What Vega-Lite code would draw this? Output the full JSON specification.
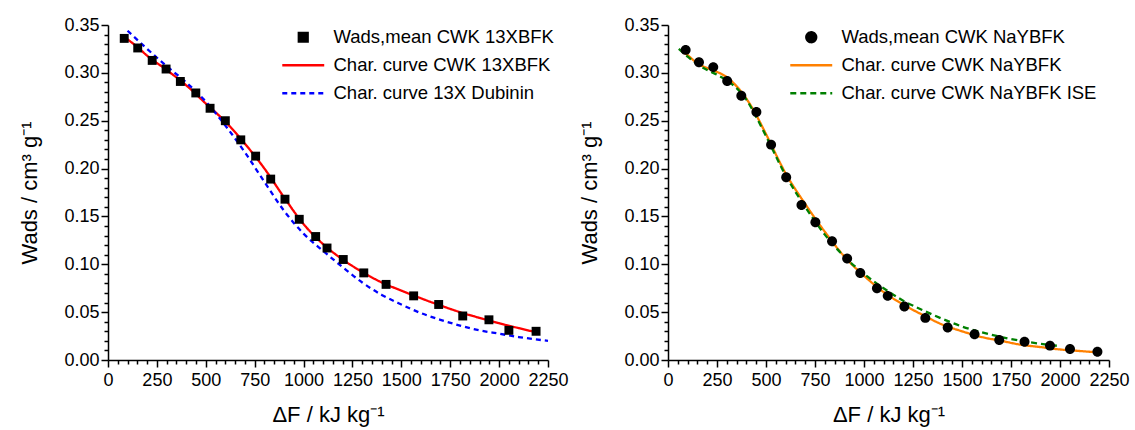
{
  "$schema": "https://vega.github.io/schema/vega-lite/v6.json",
  "background": "white",
  "padding": {"left": 18, "top": 16, "right": 5, "bottom": 5},
  "config": {
    "font": "Liberation Sans",
    "view": {"stroke": null},
    "axis": {
      "domainColor": "black", "domainWidth": 1.5, "tickColor": "black", "tickWidth": 1.5,
      "labelColor": "black", "titleColor": "black", "labelFont": "Liberation Sans", "titleFont": "Liberation Sans",
      "labelFontSize": 18, "titleFontSize": 22, "titleFontWeight": "normal", "grid": false
    },
    "legend": {
      "labelFont": "Liberation Sans", "labelFontSize": 18.5, "labelColor": "black", "labelLimit": 500,
      "symbolSize": 110, "symbolStrokeWidth": 2.3, "symbolFillColor": "black", "labelOffset": 21, "rowPadding": 9
    }
  },
  "datasets": {
    "left": [
      {"s": "Wads,mean CWK 13XBFK", "dF": 83, "W": 0.336},
      {"s": "Wads,mean CWK 13XBFK", "dF": 152, "W": 0.326},
      {"s": "Wads,mean CWK 13XBFK", "dF": 226, "W": 0.313},
      {"s": "Wads,mean CWK 13XBFK", "dF": 297, "W": 0.304},
      {"s": "Wads,mean CWK 13XBFK", "dF": 370, "W": 0.291},
      {"s": "Wads,mean CWK 13XBFK", "dF": 449, "W": 0.279},
      {"s": "Wads,mean CWK 13XBFK", "dF": 522, "W": 0.263},
      {"s": "Wads,mean CWK 13XBFK", "dF": 600, "W": 0.250},
      {"s": "Wads,mean CWK 13XBFK", "dF": 679, "W": 0.230},
      {"s": "Wads,mean CWK 13XBFK", "dF": 755, "W": 0.213},
      {"s": "Wads,mean CWK 13XBFK", "dF": 832, "W": 0.189},
      {"s": "Wads,mean CWK 13XBFK", "dF": 905, "W": 0.168},
      {"s": "Wads,mean CWK 13XBFK", "dF": 978, "W": 0.147},
      {"s": "Wads,mean CWK 13XBFK", "dF": 1062, "W": 0.129},
      {"s": "Wads,mean CWK 13XBFK", "dF": 1120, "W": 0.117},
      {"s": "Wads,mean CWK 13XBFK", "dF": 1203, "W": 0.105},
      {"s": "Wads,mean CWK 13XBFK", "dF": 1308, "W": 0.091},
      {"s": "Wads,mean CWK 13XBFK", "dF": 1422, "W": 0.079},
      {"s": "Wads,mean CWK 13XBFK", "dF": 1563, "W": 0.067},
      {"s": "Wads,mean CWK 13XBFK", "dF": 1691, "W": 0.058},
      {"s": "Wads,mean CWK 13XBFK", "dF": 1814, "W": 0.046},
      {"s": "Wads,mean CWK 13XBFK", "dF": 1948, "W": 0.042},
      {"s": "Wads,mean CWK 13XBFK", "dF": 2050, "W": 0.031},
      {"s": "Wads,mean CWK 13XBFK", "dF": 2189, "W": 0.030},
      {"s": "Char. curve CWK 13XBFK", "dF": 80, "W": 0.338},
      {"s": "Char. curve CWK 13XBFK", "dF": 150, "W": 0.327},
      {"s": "Char. curve CWK 13XBFK", "dF": 200, "W": 0.318},
      {"s": "Char. curve CWK 13XBFK", "dF": 300, "W": 0.303},
      {"s": "Char. curve CWK 13XBFK", "dF": 400, "W": 0.287},
      {"s": "Char. curve CWK 13XBFK", "dF": 500, "W": 0.268},
      {"s": "Char. curve CWK 13XBFK", "dF": 600, "W": 0.249},
      {"s": "Char. curve CWK 13XBFK", "dF": 700, "W": 0.226},
      {"s": "Char. curve CWK 13XBFK", "dF": 800, "W": 0.200},
      {"s": "Char. curve CWK 13XBFK", "dF": 900, "W": 0.170},
      {"s": "Char. curve CWK 13XBFK", "dF": 1000, "W": 0.142},
      {"s": "Char. curve CWK 13XBFK", "dF": 1100, "W": 0.121},
      {"s": "Char. curve CWK 13XBFK", "dF": 1200, "W": 0.105},
      {"s": "Char. curve CWK 13XBFK", "dF": 1300, "W": 0.092},
      {"s": "Char. curve CWK 13XBFK", "dF": 1400, "W": 0.081},
      {"s": "Char. curve CWK 13XBFK", "dF": 1500, "W": 0.0725},
      {"s": "Char. curve CWK 13XBFK", "dF": 1600, "W": 0.0645},
      {"s": "Char. curve CWK 13XBFK", "dF": 1700, "W": 0.057},
      {"s": "Char. curve CWK 13XBFK", "dF": 1800, "W": 0.050},
      {"s": "Char. curve CWK 13XBFK", "dF": 1900, "W": 0.044},
      {"s": "Char. curve CWK 13XBFK", "dF": 2000, "W": 0.0385},
      {"s": "Char. curve CWK 13XBFK", "dF": 2100, "W": 0.0333},
      {"s": "Char. curve CWK 13XBFK", "dF": 2200, "W": 0.0285},
      {"s": "Char. curve 13X Dubinin", "dF": 100, "W": 0.344},
      {"s": "Char. curve 13X Dubinin", "dF": 200, "W": 0.325},
      {"s": "Char. curve 13X Dubinin", "dF": 300, "W": 0.307},
      {"s": "Char. curve 13X Dubinin", "dF": 400, "W": 0.290},
      {"s": "Char. curve 13X Dubinin", "dF": 500, "W": 0.270},
      {"s": "Char. curve 13X Dubinin", "dF": 600, "W": 0.245},
      {"s": "Char. curve 13X Dubinin", "dF": 700, "W": 0.217},
      {"s": "Char. curve 13X Dubinin", "dF": 800, "W": 0.186},
      {"s": "Char. curve 13X Dubinin", "dF": 900, "W": 0.156},
      {"s": "Char. curve 13X Dubinin", "dF": 1000, "W": 0.132},
      {"s": "Char. curve 13X Dubinin", "dF": 1100, "W": 0.114},
      {"s": "Char. curve 13X Dubinin", "dF": 1200, "W": 0.097},
      {"s": "Char. curve 13X Dubinin", "dF": 1300, "W": 0.081},
      {"s": "Char. curve 13X Dubinin", "dF": 1400, "W": 0.068},
      {"s": "Char. curve 13X Dubinin", "dF": 1500, "W": 0.058},
      {"s": "Char. curve 13X Dubinin", "dF": 1600, "W": 0.049},
      {"s": "Char. curve 13X Dubinin", "dF": 1700, "W": 0.042},
      {"s": "Char. curve 13X Dubinin", "dF": 1800, "W": 0.036},
      {"s": "Char. curve 13X Dubinin", "dF": 1900, "W": 0.031},
      {"s": "Char. curve 13X Dubinin", "dF": 2000, "W": 0.0275},
      {"s": "Char. curve 13X Dubinin", "dF": 2100, "W": 0.024},
      {"s": "Char. curve 13X Dubinin", "dF": 2250, "W": 0.020}
    ],
    "right": [
      {"s": "Wads,mean CWK NaYBFK", "dF": 90, "W": 0.324},
      {"s": "Wads,mean CWK NaYBFK", "dF": 158, "W": 0.311},
      {"s": "Wads,mean CWK NaYBFK", "dF": 231, "W": 0.306},
      {"s": "Wads,mean CWK NaYBFK", "dF": 302, "W": 0.2915},
      {"s": "Wads,mean CWK NaYBFK", "dF": 374, "W": 0.276},
      {"s": "Wads,mean CWK NaYBFK", "dF": 451, "W": 0.259},
      {"s": "Wads,mean CWK NaYBFK", "dF": 526, "W": 0.225},
      {"s": "Wads,mean CWK NaYBFK", "dF": 603, "W": 0.191},
      {"s": "Wads,mean CWK NaYBFK", "dF": 681, "W": 0.162},
      {"s": "Wads,mean CWK NaYBFK", "dF": 752, "W": 0.144},
      {"s": "Wads,mean CWK NaYBFK", "dF": 837, "W": 0.124},
      {"s": "Wads,mean CWK NaYBFK", "dF": 914, "W": 0.106},
      {"s": "Wads,mean CWK NaYBFK", "dF": 981, "W": 0.091},
      {"s": "Wads,mean CWK NaYBFK", "dF": 1066, "W": 0.075},
      {"s": "Wads,mean CWK NaYBFK", "dF": 1121, "W": 0.067},
      {"s": "Wads,mean CWK NaYBFK", "dF": 1206, "W": 0.056},
      {"s": "Wads,mean CWK NaYBFK", "dF": 1313, "W": 0.044},
      {"s": "Wads,mean CWK NaYBFK", "dF": 1427, "W": 0.034},
      {"s": "Wads,mean CWK NaYBFK", "dF": 1564, "W": 0.027},
      {"s": "Wads,mean CWK NaYBFK", "dF": 1690, "W": 0.021},
      {"s": "Wads,mean CWK NaYBFK", "dF": 1819, "W": 0.019},
      {"s": "Wads,mean CWK NaYBFK", "dF": 1949, "W": 0.015},
      {"s": "Wads,mean CWK NaYBFK", "dF": 2051, "W": 0.0115},
      {"s": "Wads,mean CWK NaYBFK", "dF": 2191, "W": 0.0087},
      {"s": "Char. curve CWK NaYBFK", "dF": 64, "W": 0.324},
      {"s": "Char. curve CWK NaYBFK", "dF": 100, "W": 0.3185},
      {"s": "Char. curve CWK NaYBFK", "dF": 150, "W": 0.310},
      {"s": "Char. curve CWK NaYBFK", "dF": 200, "W": 0.305},
      {"s": "Char. curve CWK NaYBFK", "dF": 250, "W": 0.301},
      {"s": "Char. curve CWK NaYBFK", "dF": 300, "W": 0.2955},
      {"s": "Char. curve CWK NaYBFK", "dF": 350, "W": 0.286},
      {"s": "Char. curve CWK NaYBFK", "dF": 400, "W": 0.273},
      {"s": "Char. curve CWK NaYBFK", "dF": 450, "W": 0.256},
      {"s": "Char. curve CWK NaYBFK", "dF": 500, "W": 0.236},
      {"s": "Char. curve CWK NaYBFK", "dF": 600, "W": 0.195},
      {"s": "Char. curve CWK NaYBFK", "dF": 700, "W": 0.163},
      {"s": "Char. curve CWK NaYBFK", "dF": 800, "W": 0.134},
      {"s": "Char. curve CWK NaYBFK", "dF": 900, "W": 0.108},
      {"s": "Char. curve CWK NaYBFK", "dF": 1000, "W": 0.088},
      {"s": "Char. curve CWK NaYBFK", "dF": 1100, "W": 0.071},
      {"s": "Char. curve CWK NaYBFK", "dF": 1200, "W": 0.058},
      {"s": "Char. curve CWK NaYBFK", "dF": 1300, "W": 0.047},
      {"s": "Char. curve CWK NaYBFK", "dF": 1400, "W": 0.037},
      {"s": "Char. curve CWK NaYBFK", "dF": 1500, "W": 0.030},
      {"s": "Char. curve CWK NaYBFK", "dF": 1600, "W": 0.024},
      {"s": "Char. curve CWK NaYBFK", "dF": 1700, "W": 0.020},
      {"s": "Char. curve CWK NaYBFK", "dF": 1800, "W": 0.016},
      {"s": "Char. curve CWK NaYBFK", "dF": 1900, "W": 0.0135},
      {"s": "Char. curve CWK NaYBFK", "dF": 2000, "W": 0.011},
      {"s": "Char. curve CWK NaYBFK", "dF": 2100, "W": 0.0094},
      {"s": "Char. curve CWK NaYBFK", "dF": 2190, "W": 0.008},
      {"s": "Char. curve CWK NaYBFK ISE", "dF": 55, "W": 0.325},
      {"s": "Char. curve CWK NaYBFK ISE", "dF": 100, "W": 0.317},
      {"s": "Char. curve CWK NaYBFK ISE", "dF": 150, "W": 0.309},
      {"s": "Char. curve CWK NaYBFK ISE", "dF": 200, "W": 0.303},
      {"s": "Char. curve CWK NaYBFK ISE", "dF": 250, "W": 0.298},
      {"s": "Char. curve CWK NaYBFK ISE", "dF": 300, "W": 0.292},
      {"s": "Char. curve CWK NaYBFK ISE", "dF": 350, "W": 0.284},
      {"s": "Char. curve CWK NaYBFK ISE", "dF": 400, "W": 0.272},
      {"s": "Char. curve CWK NaYBFK ISE", "dF": 450, "W": 0.254},
      {"s": "Char. curve CWK NaYBFK ISE", "dF": 500, "W": 0.234},
      {"s": "Char. curve CWK NaYBFK ISE", "dF": 600, "W": 0.193},
      {"s": "Char. curve CWK NaYBFK ISE", "dF": 700, "W": 0.160},
      {"s": "Char. curve CWK NaYBFK ISE", "dF": 800, "W": 0.131},
      {"s": "Char. curve CWK NaYBFK ISE", "dF": 900, "W": 0.108},
      {"s": "Char. curve CWK NaYBFK ISE", "dF": 1000, "W": 0.090},
      {"s": "Char. curve CWK NaYBFK ISE", "dF": 1100, "W": 0.075},
      {"s": "Char. curve CWK NaYBFK ISE", "dF": 1200, "W": 0.062},
      {"s": "Char. curve CWK NaYBFK ISE", "dF": 1300, "W": 0.052},
      {"s": "Char. curve CWK NaYBFK ISE", "dF": 1400, "W": 0.043},
      {"s": "Char. curve CWK NaYBFK ISE", "dF": 1500, "W": 0.035},
      {"s": "Char. curve CWK NaYBFK ISE", "dF": 1600, "W": 0.029},
      {"s": "Char. curve CWK NaYBFK ISE", "dF": 1700, "W": 0.024},
      {"s": "Char. curve CWK NaYBFK ISE", "dF": 1800, "W": 0.020},
      {"s": "Char. curve CWK NaYBFK ISE", "dF": 1900, "W": 0.017},
      {"s": "Char. curve CWK NaYBFK ISE", "dF": 2000, "W": 0.0145}
    ]
  },
  "spacing": 9,
  "resolve": {
    "scale": {"x": "independent", "y": "independent", "color": "independent", "shape": "independent", "strokeDash": "independent"},
    "legend": {"color": "independent", "shape": "independent", "strokeDash": "independent"}
  },
  "hconcat": [
    {
      "width": 440, "height": 335,
      "data": {"name": "left"},
      "encoding": {
        "x": {"field": "dF", "type": "quantitative", "title": "ΔF / kJ kg⁻¹",
          "scale": {"domain": [0, 2250], "nice": false, "zero": false},
          "axis": {"values": [0,50,100,150,200,250,300,350,400,450,500,550,600,650,700,750,800,850,900,950,1000,1050,1100,1150,1200,1250,1300,1350,1400,1450,1500,1550,1600,1650,1700,1750,1800,1850,1900,1950,2000,2050,2100,2150,2200,2250],
            "format": "d", "labelExpr": "datum.value % 250 === 0 ? datum.label : ''",
            "tickSize": {"condition": {"test": "datum.value % 250 === 0", "value": 7}, "value": 4},
            "labelFlush": false, "labelOverlap": false, "labelPadding": 4, "titlePadding": 15}},
        "y": {"field": "W", "type": "quantitative", "title": "Wads / cm³ g⁻¹",
          "scale": {"domain": [0, 0.35], "nice": false},
          "axis": {"values": [0,0.01,0.02,0.03,0.04,0.05,0.06,0.07,0.08,0.09,0.1,0.11,0.12,0.13,0.14,0.15,0.16,0.17,0.18,0.19,0.2,0.21,0.22,0.23,0.24,0.25,0.26,0.27,0.28,0.29,0.3,0.31,0.32,0.33,0.34,0.35],
            "format": ".2f", "labelExpr": "round(datum.value * 100) % 5 === 0 ? datum.label : ''",
            "tickSize": {"condition": {"test": "round(datum.value * 100) % 5 === 0", "value": 7}, "value": 4},
            "labelOverlap": false, "labelPadding": 2, "titlePadding": 22}}
      },
      "layer": [
        {
          "transform": [{"filter": {"field": "s", "oneOf": ["Char. curve CWK 13XBFK", "Char. curve 13X Dubinin"]}}],
          "mark": {"type": "line", "strokeWidth": 2.3, "interpolate": "monotone"},
          "encoding": {
            "color": {"field": "s", "type": "nominal", "title": null,
              "scale": {"domain": ["Wads,mean CWK 13XBFK", "Char. curve CWK 13XBFK", "Char. curve 13X Dubinin"], "range": ["black", "#FF0000", "#0000FF"]},
              "legend": {"orient": "none", "legendX": 186, "legendY": 3, "title": null, "symbolFillColor": "black"}},
            "strokeDash": {"field": "s", "type": "nominal", "title": null,
              "scale": {"domain": ["Wads,mean CWK 13XBFK", "Char. curve CWK 13XBFK", "Char. curve 13X Dubinin"], "range": [[1, 0], [1, 0], [5, 4]]}}
          }
        },
        {
          "transform": [{"filter": {"field": "s", "equal": "Wads,mean CWK 13XBFK"}}],
          "mark": {"type": "point", "filled": true, "size": 110, "opacity": 1},
          "encoding": {
            "color": {"field": "s", "type": "nominal", "title": null,
              "scale": {"domain": ["Wads,mean CWK 13XBFK", "Char. curve CWK 13XBFK", "Char. curve 13X Dubinin"], "range": ["black", "#FF0000", "#0000FF"]}},
            "shape": {"field": "s", "type": "nominal", "title": null,
              "scale": {"domain": ["Wads,mean CWK 13XBFK", "Char. curve CWK 13XBFK", "Char. curve 13X Dubinin"], "range": ["M-0.85,-0.85H0.85V0.85H-0.85Z", "M-4,0H4", "M-4,0H4"]}}
          }
        }
      ]
    },
    {
      "width": 441, "height": 335,
      "data": {"name": "right"},
      "encoding": {
        "x": {"field": "dF", "type": "quantitative", "title": "ΔF / kJ kg⁻¹",
          "scale": {"domain": [0, 2250], "nice": false, "zero": false},
          "axis": {"values": [0,50,100,150,200,250,300,350,400,450,500,550,600,650,700,750,800,850,900,950,1000,1050,1100,1150,1200,1250,1300,1350,1400,1450,1500,1550,1600,1650,1700,1750,1800,1850,1900,1950,2000,2050,2100,2150,2200,2250],
            "format": "d", "labelExpr": "datum.value % 250 === 0 ? datum.label : ''",
            "tickSize": {"condition": {"test": "datum.value % 250 === 0", "value": 7}, "value": 4},
            "labelFlush": false, "labelOverlap": false, "labelPadding": 4, "titlePadding": 15}},
        "y": {"field": "W", "type": "quantitative", "title": "Wads / cm³ g⁻¹",
          "scale": {"domain": [0, 0.35], "nice": false},
          "axis": {"values": [0,0.01,0.02,0.03,0.04,0.05,0.06,0.07,0.08,0.09,0.1,0.11,0.12,0.13,0.14,0.15,0.16,0.17,0.18,0.19,0.2,0.21,0.22,0.23,0.24,0.25,0.26,0.27,0.28,0.29,0.3,0.31,0.32,0.33,0.34,0.35],
            "format": ".2f", "labelExpr": "round(datum.value * 100) % 5 === 0 ? datum.label : ''",
            "tickSize": {"condition": {"test": "round(datum.value * 100) % 5 === 0", "value": 7}, "value": 4},
            "labelOverlap": false, "labelPadding": 2, "titlePadding": 22}}
      },
      "layer": [
        {
          "transform": [{"filter": {"field": "s", "oneOf": ["Char. curve CWK NaYBFK", "Char. curve CWK NaYBFK ISE"]}}],
          "mark": {"type": "line", "strokeWidth": 2.3, "interpolate": "monotone"},
          "encoding": {
            "color": {"field": "s", "type": "nominal", "title": null,
              "scale": {"domain": ["Wads,mean CWK NaYBFK", "Char. curve CWK NaYBFK", "Char. curve CWK NaYBFK ISE"], "range": ["black", "#FF8000", "#008000"]},
              "legend": {"orient": "none", "legendX": 134, "legendY": 3, "title": null, "symbolFillColor": "black"}},
            "strokeDash": {"field": "s", "type": "nominal", "title": null,
              "scale": {"domain": ["Wads,mean CWK NaYBFK", "Char. curve CWK NaYBFK", "Char. curve CWK NaYBFK ISE"], "range": [[1, 0], [1, 0], [6, 4]]}}
          }
        },
        {
          "transform": [{"filter": {"field": "s", "equal": "Wads,mean CWK NaYBFK"}}],
          "mark": {"type": "point", "filled": true, "size": 110, "opacity": 1},
          "encoding": {
            "color": {"field": "s", "type": "nominal", "title": null,
              "scale": {"domain": ["Wads,mean CWK NaYBFK", "Char. curve CWK NaYBFK", "Char. curve CWK NaYBFK ISE"], "range": ["black", "#FF8000", "#008000"]}},
            "shape": {"field": "s", "type": "nominal", "title": null,
              "scale": {"domain": ["Wads,mean CWK NaYBFK", "Char. curve CWK NaYBFK", "Char. curve CWK NaYBFK ISE"], "range": ["M0.95,0A0.95,0.95,0,1,1,-0.95,0A0.95,0.95,0,1,1,0.95,0Z", "M-4,0H4", "M-4,0H4"]}}
          }
        }
      ]
    }
  ]
}
